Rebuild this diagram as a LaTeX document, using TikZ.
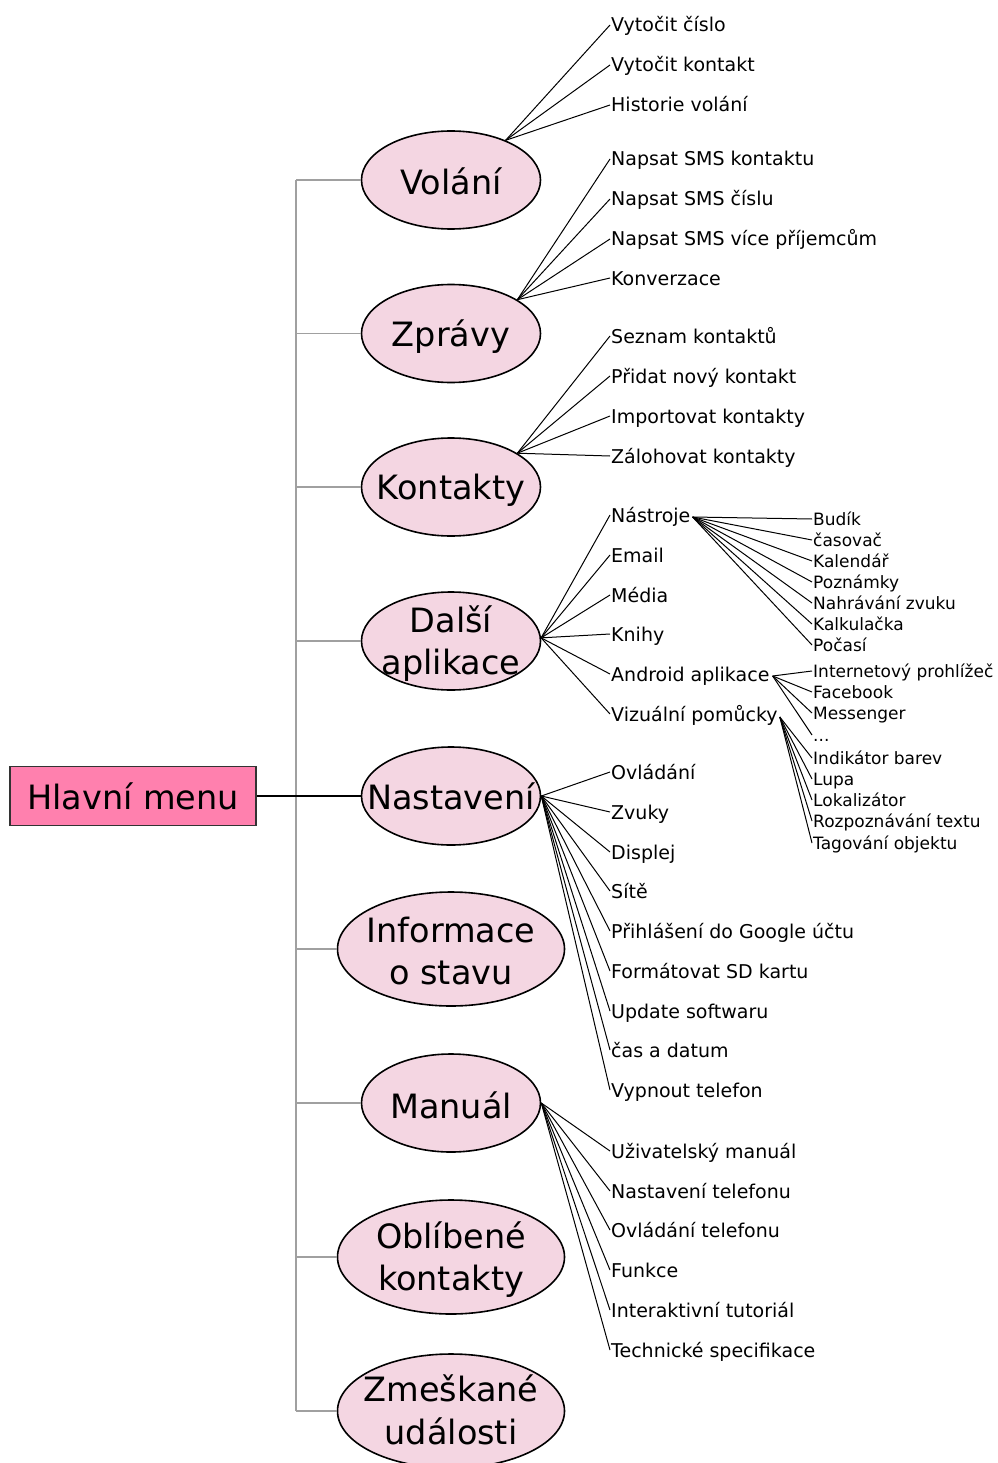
\documentclass[tikz,border=0pt]{standalone}
\usepackage{fontspec}
\setmainfont{DejaVu Sans}
\usetikzlibrary{shapes.geometric,calc}
\definecolor{ellfill}{HTML}{F4D6E2}
\definecolor{rectfill}{HTML}{FF80AE}
\definecolor{trunkgray}{HTML}{A0A0A0}
\begin{document}
\begin{tikzpicture}[x=1pt,y=-1pt,
  ell/.style={ellipse, draw=black, line width=1.6pt, fill=ellfill, minimum width=179pt, minimum height=98pt, inner sep=0pt},
  bigell/.style={ell, minimum width=227pt, minimum height=114pt},
  etext/.style={font=\fontsize{33.5}{40}\selectfont, inner sep=0pt, text height=26.4pt, text depth=2pt},
  leaf/.style={anchor=west, font=\fontsize{19}{22}\selectfont, inner xsep=1pt, inner ysep=0pt, text height=16pt, text depth=2pt},
  sleaf/.style={anchor=west, font=\fontsize{17}{20}\selectfont, inner xsep=1pt, inner ysep=0pt, text height=14pt, text depth=2pt},
  conn/.style={draw=black, line width=1pt},
  trunk/.style={draw=trunkgray, line width=1.3pt}]
\useasboundingbox (0,0) rectangle (997,1463);
\clip (0,0) rectangle (997,1463);

% root
\node[draw=black!80, line width=1.5pt, fill=rectfill, minimum width=246pt, minimum height=59pt, inner sep=0pt,
      font=\fontsize{33.5}{40}\selectfont] (hlavni) at (133,796) {Hlavní menu};

% main ellipses
\node[ell] (volani) at (451,180) {};
\node[ell] (zpravy) at (451,333.5) {};
\node[ell] (kontakty) at (451,487) {};
\node[ell] (dalsi) at (451,641) {};
\node[ell] (nastaveni) at (451,796) {};
\node[bigell] (informace) at (451,949) {};
\node[ell] (manual) at (451,1103) {};
\node[bigell] (oblibene) at (451,1257) {};
\node[bigell] (zmeskane) at (451,1411) {};

% trunk
\coordinate (tx) at (296,0);
\draw[trunk] (volani.west -| tx) -- (zmeskane.west -| tx);
\foreach \e in {volani,zpravy,kontakty,dalsi,informace,manual,oblibene,zmeskane}
  \draw[trunk] (\e.west -| tx) -- (\e.west);
\draw[conn, line width=1.1pt] (hlavni.east) -- (nastaveni.west);

% ellipse texts
\node[etext] (tvolani) at (451,182) {Volání};
\node[etext] (tzpravy) at (451,334) {Zprávy};
\node[etext] (tkontakty) at (451,487) {Kontakty};
\node[etext] (tdalsi1) at (451,620) {Další};
\node[etext] (tdalsi2) at (451,662) {aplikace};
\node[etext] (tnastaveni) at (451,797) {Nastavení};
\node[etext] (tinfo1) at (451,930) {Informace};
\node[etext] (tinfo2) at (451,972) {o stavu};
\node[etext] (tmanual) at (451,1106) {Manuál};
\node[etext] (tobl1) at (451,1236) {Oblíbené};
\node[etext] (tobl2) at (451,1278) {kontakty};
\node[etext] (tzm1) at (451,1389) {Zmeškané};
\node[etext] (tzm2) at (451,1432) {události};

% Volání
\node[leaf] (v1) at (610,25) {Vytočit číslo};
\node[leaf] (v2) at (610,65) {Vytočit kontakt};
\node[leaf] (v3) at (610,105) {Historie volání};
\foreach \i in {1,2,3} \draw[conn] (volani.36) -- (v\i.west);

% Zprávy
\node[leaf] (z1) at (610,159) {Napsat SMS kontaktu};
\node[leaf] (z2) at (610,199) {Napsat SMS číslu};
\node[leaf] (z3) at (610,239) {Napsat SMS více příjemcům};
\node[leaf] (z4) at (610,278) {Konverzace};
\foreach \i in {1,...,4} \draw[conn] (zpravy.27) -- (z\i.west);

% Kontakty
\node[leaf] (k1) at (610,336) {Seznam kontaktů};
\node[leaf] (k2) at (610,376) {Přidat nový kontakt};
\node[leaf] (k3) at (610,416) {Importovat kontakty};
\node[leaf] (k4) at (610,456) {Zálohovat kontakty};
\foreach \i in {1,...,4} \draw[conn] (kontakty.27) -- (k\i.west);

% Další aplikace
\node[leaf] (d1) at (610,515) {Nástroje};
\node[leaf] (d2) at (610,555) {Email};
\node[leaf] (d3) at (610,595) {Média};
\node[leaf] (d4) at (610,634) {Knihy};
\node[leaf] (d5) at (610,674) {Android aplikace};
\node[leaf] (d6) at (610,714) {Vizuální pomůcky};
\foreach \i in {1,...,6} \draw[conn] (dalsi.2) -- (d\i.west);

% Nástroje
\node[sleaf] (n1) at (812,519) {Budík};
\node[sleaf] (n2) at (812,540) {časovač};
\node[sleaf] (n3) at (812,561) {Kalendář};
\node[sleaf] (n4) at (812,582) {Poznámky};
\node[sleaf] (n5) at (812,603) {Nahrávání zvuku};
\node[sleaf] (n6) at (812,624) {Kalkulačka};
\node[sleaf] (n7) at (812,645) {Počasí};
\coordinate (d1o) at ($(d1.east)+(1,2)$);
\foreach \i in {1,...,7} \draw[conn] (d1o) -- (n\i.west);

% Android aplikace
\node[sleaf] (a1) at (812,671) {Internetový prohlížeč};
\node[sleaf] (a2) at (812,692) {Facebook};
\node[sleaf] (a3) at (812,713) {Messenger};
\node[sleaf] (a4) at (812,735) {...};
\coordinate (d5o) at ($(d5.east)+(2,2)$);
\foreach \i in {1,...,4} \draw[conn] (d5o) -- (a\i.west);

% Vizuální pomůcky
\node[sleaf] (p1) at (812,758) {Indikátor barev};
\node[sleaf] (p2) at (812,779) {Lupa};
\node[sleaf] (p3) at (812,800) {Lokalizátor};
\node[sleaf] (p4) at (812,821) {Rozpoznávání textu};
\node[sleaf] (p5) at (812,843) {Tagování objektu};
\coordinate (d6o) at ($(d6.east)+(1,3)$);
\foreach \i in {1,...,5} \draw[conn] (d6o) -- (p\i.west);

% Nastavení
\node[leaf] (s1) at (610,772) {Ovládání};
\node[leaf] (s2) at (610,812) {Zvuky};
\node[leaf] (s3) at (610,852) {Displej};
\node[leaf] (s4) at (610,891) {Sítě};
\node[leaf] (s5) at (610,931) {Přihlášení do Google účtu};
\node[leaf] (s6) at (610,971) {Formátovat SD kartu};
\node[leaf] (s7) at (610,1011) {Update softwaru};
\node[leaf] (s8) at (610,1050) {čas a datum};
\node[leaf] (s9) at (610,1090) {Vypnout telefon};
\foreach \i in {1,...,9} \draw[conn] (nastaveni.east) -- (s\i.west);

% Manuál
\node[leaf] (m1) at (610,1151) {Uživatelský manuál};
\node[leaf] (m2) at (610,1191) {Nastavení telefonu};
\node[leaf] (m3) at (610,1230) {Ovládání telefonu};
\node[leaf] (m4) at (610,1270) {Funkce};
\node[leaf] (m5) at (610,1310) {Interaktivní tutoriál};
\node[leaf] (m6) at (610,1350) {Technické specifikace};
\foreach \i in {1,...,6} \draw[conn] (manual.east) -- (m\i.west);
\end{tikzpicture}
\end{document}
